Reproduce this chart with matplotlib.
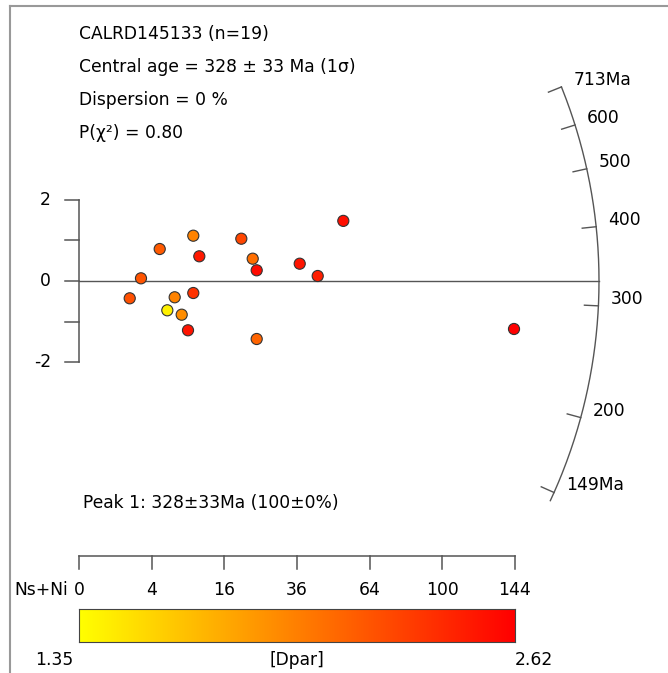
import numpy as np
import matplotlib
matplotlib.use('Agg')
import matplotlib.pyplot as plt
from matplotlib.colors import LinearSegmentedColormap, Normalize
from matplotlib.lines import Line2D

W, H, DPI = 668, 673, 100

title = 'CALRD145133 (n=19)'
stats = ['Central age = 328 ± 33 Ma (1σ)', 'Dispersion = 0 %', 'P(χ²) = 0.80']
peak_txt = 'Peak 1: 328±33Ma (100±0%)'

# radial plot: precision (x) and standardised estimate (y), Dpar colour
prec = [1.246, 1.523, 1.983, 2.170, 2.351, 2.523, 2.678, 2.808, 2.808,
        2.956, 3.988, 4.268, 4.366, 4.366, 5.423, 5.865, 6.494, 10.688]
zstd = [-0.425, 0.066, 0.786, -0.720, -0.400, -0.828, -1.211, 1.113, -0.295,
        0.607, 1.039, 0.548, 0.263, -1.425, 0.425, 0.123, 1.477, -1.179]
dpar = [2.22, 2.20, 2.17, 1.42, 1.97, 1.92, 2.52, 1.97, 2.37,
        2.50, 2.27, 2.07, 2.57, 2.12, 2.52, 2.47, 2.55, 2.62]

central_age = 328
arc_ages = [149, 200, 300, 400, 500, 600, 713]
arc_labels = ['149Ma', '200', '300', '400', '500', '600', '713Ma']
arc_min_age = 144
yticks = [-2, -1, 0, 1, 2]
ylabels = [-2, 0, 2]
count_ticks = [0, 4, 16, 36, 64, 100, 144]
dpar_lo, dpar_hi = 1.35, 2.62

u = 40.7            # pixels per unit
ox, oy = 79, 281    # origin in pixels (from top-left)
R = 520 / u
tick_len = 14 / u
gray = '#555555'
fs = 12.3

cmap = LinearSegmentedColormap.from_list('yr', ['#FFFF00', '#FF0000'])
norm = Normalize(dpar_lo, dpar_hi)


def slope(t):
    return 0.485 * np.log((np.asarray(t) - 30.0) / (central_age - 30.0))


def fx(px):
    return px / W


def fy(py):
    return 1 - py / H


fig = plt.figure(figsize=(W / DPI, H / DPI), dpi=DPI)
ax = fig.add_axes([0, 0, 1, 1])
ax.set_xlim(-ox / u, (W - ox) / u)
ax.set_ylim(-(H - oy) / u, oy / u)
ax.axis('off')

# frame
fig.add_artist(Line2D([fx(10), 1], [fy(5.5), fy(5.5)], color='#999999', lw=1.5))
fig.add_artist(Line2D([fx(10), fx(10)], [0, fy(5.5)], color='#999999', lw=1.5))

# y axis
ax.plot([0, 0], [min(yticks), max(yticks)], color=gray, lw=1.1)
for v in yticks:
    ax.plot([-tick_len, 0], [v, v], color=gray, lw=1.1)
for v in ylabels:
    ax.annotate(str(v), (0, v), xytext=(-28, 0), textcoords='offset pixels',
                ha='right', va='center', fontsize=fs)

# zero line
ax.plot([0, R], [0, 0], color=gray, lw=1.0)

# arc
th = np.arctan(slope(np.linspace(arc_min_age, max(arc_ages), 300)))
ax.plot(R * np.cos(th), R * np.sin(th), color=gray, lw=1.0)
for a, lab in zip(arc_ages, arc_labels):
    t = np.arctan(slope(a))
    ax.plot([R * np.cos(t), (R - tick_len) * np.cos(t)],
            [R * np.sin(t), (R - tick_len) * np.sin(t)], color=gray, lw=1.0)
    ax.annotate(lab, (R * np.cos(t), R * np.sin(t)), xytext=(12, 7),
                textcoords='offset pixels', ha='left', va='center', fontsize=fs)

# points
ax.scatter(prec, zstd, c=dpar, cmap=cmap, norm=norm, s=64,
           edgecolors='#333333', linewidths=0.8, zorder=5)

# texts
fig.text(fx(79), fy(39), title, fontsize=fs, va='baseline')
for i, s in enumerate(stats):
    fig.text(fx(79), fy(72 + 33 * i), s, fontsize=fs, va='baseline')
fig.text(fx(83), fy(508), peak_txt, fontsize=fs, va='baseline')

# Ns+Ni axis (sqrt scale)
axc = fig.add_axes([fx(79), fy(569), fx(515) - fx(79), fy(556) - fy(569)])
axc.set_xlim(0, np.sqrt(max(count_ticks)))
axc.set_ylim(0, 1)
axc.axis('off')
sq = np.sqrt(count_ticks)
axc.plot([sq[0], sq[-1]], [1, 1], color=gray, lw=1.1, clip_on=False)
for x, c in zip(sq, count_ticks):
    axc.plot([x, x], [0, 1], color=gray, lw=1.1, clip_on=False)
    axc.annotate(str(c), (x, 0), xytext=(0, -26), textcoords='offset pixels',
                 ha='center', va='baseline', fontsize=fs)
axc.annotate('Ns+Ni', (0, 0), xytext=(-11, -26), textcoords='offset pixels',
             ha='right', va='baseline', fontsize=fs)

# colour bar
axb = fig.add_axes([fx(79), fy(642), fx(515) - fx(79), fy(609) - fy(642)])
grad = np.linspace(dpar_lo, dpar_hi, 256).reshape(1, -1)
axb.imshow(grad, cmap=cmap, norm=norm, aspect='auto',
           extent=[dpar_lo, dpar_hi, 0, 1])
axb.set_xticks([])
axb.set_yticks([])
for sp in axb.spines.values():
    sp.set_color('#444444')
    sp.set_linewidth(0.8)
fig.text(fx(73), fy(665), f'{dpar_lo:.2f}', fontsize=fs, ha='right', va='baseline')
fig.text(fx(297), fy(665), '[Dpar]', fontsize=fs, ha='center', va='baseline')
fig.text(fx(515), fy(665), f'{dpar_hi:.2f}', fontsize=fs, ha='left', va='baseline')

fig.savefig('out.png', dpi=DPI)
